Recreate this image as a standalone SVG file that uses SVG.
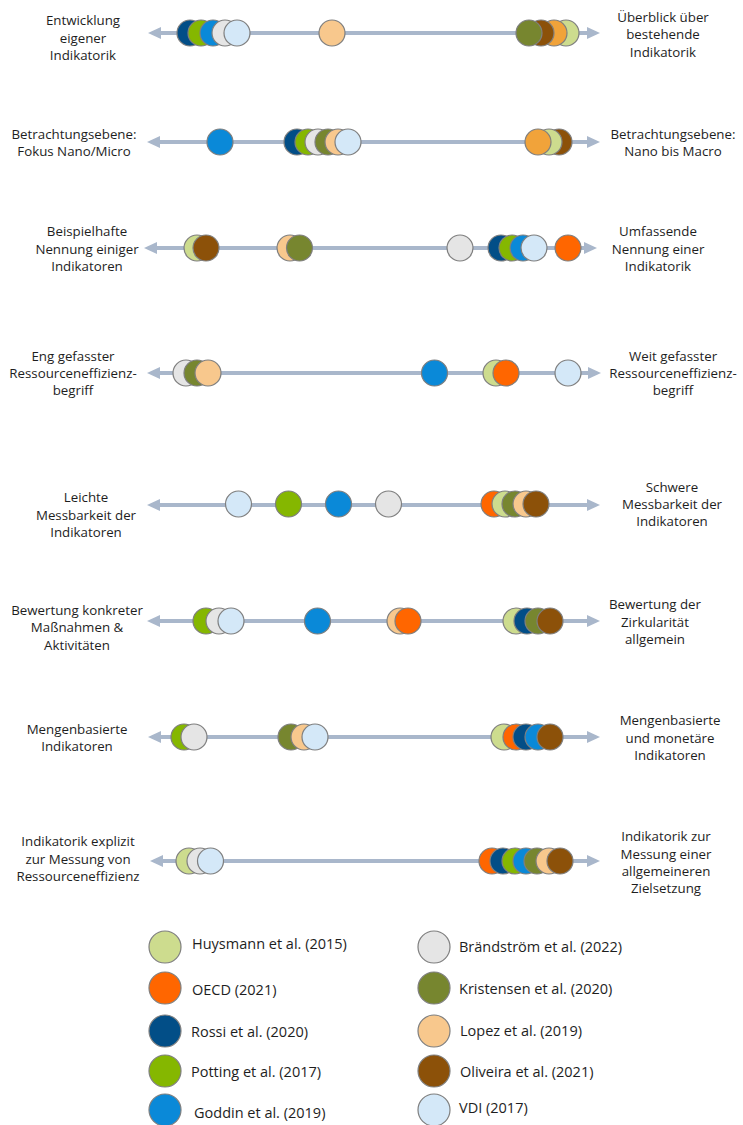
<svg xmlns="http://www.w3.org/2000/svg" width="743" height="1125" viewBox="0 0 743 1125">
<style>
text{font-family:"Open Sans","Liberation Sans",sans-serif;font-size:13.3px;fill:#1e1e1e}
.l{text-anchor:middle}
.lg{font-size:14.5px}
circle{stroke:#7f7f7f;stroke-width:1.2}
.ax{stroke:#a9b7cb;stroke-width:4;fill:none;marker-start:url(#ah);marker-end:url(#ah)}
.hu{fill:#cddc8e}.oe{fill:#ff6600}.ro{fill:#024e87}.po{fill:#85b700}.go{fill:#0a89d8}
.br{fill:#e5e5e5}.kr{fill:#77862f}.lo{fill:#f8c88d}.ol{fill:#8c5109}.vd{fill:#d4e8f8}.or{fill:#f1a33a}
</style>
<defs>
<marker id="ah" markerUnits="userSpaceOnUse" markerWidth="13" markerHeight="12" refX="0" refY="6" orient="auto-start-reverse" viewBox="0 0 13 12">
<path d="M0,0 L13,6 L0,12 z" fill="#a9b7cb"/>
</marker>
</defs>
<g id="connectors">
<line class="ax" x1="161" y1="33" x2="587" y2="33"/>
<line class="ax" x1="160" y1="142" x2="587" y2="142"/>
<line class="ax" x1="157" y1="248" x2="584" y2="248"/>
<line class="ax" x1="160" y1="373" x2="588" y2="373"/>
<line class="ax" x1="160" y1="505" x2="587" y2="505"/>
<line class="ax" x1="160" y1="621" x2="587" y2="621"/>
<line class="ax" x1="161" y1="737" x2="587" y2="737"/>
<line class="ax" x1="163" y1="861" x2="587" y2="861"/>
</g>
<g id="row1">
<text class="l" x="83" y="25">Entwicklung</text><text class="l" x="83" y="43">eigener</text><text class="l" x="83" y="60">Indikatorik</text>
<text class="l" x="663" y="22">Überblick über</text><text class="l" x="663" y="39">bestehende</text><text class="l" x="663" y="57">Indikatorik</text>
<circle class="ro" cx="190" cy="33" r="13"/><circle class="po" cx="201" cy="33" r="13"/><circle class="go" cx="213" cy="33" r="13"/><circle class="br" cx="225" cy="33" r="13"/><circle class="vd" cx="237" cy="33" r="13"/>
<circle class="lo" cx="332" cy="33" r="13"/>
<circle class="hu" cx="566" cy="33" r="13"/><circle class="or" cx="554" cy="33" r="13"/><circle class="ol" cx="541" cy="33" r="13"/><circle class="kr" cx="529" cy="33" r="13"/>
</g>
<g id="row2">
<text class="l" x="74" y="139">Betrachtungsebene:</text><text class="l" x="74" y="156">Fokus Nano/Micro</text>
<text class="l" x="673" y="139">Betrachtungsebene:</text><text class="l" x="673" y="156">Nano bis Macro</text>
<circle class="go" cx="220" cy="142" r="13"/>
<circle class="ro" cx="297" cy="142" r="13"/><circle class="po" cx="308" cy="142" r="13"/><circle class="br" cx="318" cy="142" r="13"/><circle class="kr" cx="328" cy="142" r="13"/><circle class="lo" cx="338" cy="142" r="13"/><circle class="vd" cx="348" cy="142" r="13"/>
<circle class="ol" cx="559" cy="142" r="13"/><circle class="hu" cx="549" cy="142" r="13"/><circle class="or" cx="538" cy="142" r="13"/>
</g>
<g id="row3">
<text class="l" x="87" y="236">Beispielhafte</text><text class="l" x="87" y="254">Nennung einiger</text><text class="l" x="87" y="271">Indikatoren</text>
<text class="l" x="658" y="236">Umfassende</text><text class="l" x="658" y="254">Nennung einer</text><text class="l" x="658" y="271">Indikatorik</text>
<circle class="hu" cx="197" cy="248" r="13"/><circle class="ol" cx="206" cy="248" r="13"/>
<circle class="lo" cx="290" cy="248" r="13"/><circle class="kr" cx="299.5" cy="248" r="13"/>
<circle class="br" cx="460" cy="248" r="13"/>
<circle class="ro" cx="501" cy="248" r="13"/><circle class="po" cx="512" cy="248" r="13"/><circle class="go" cx="523" cy="248" r="13"/><circle class="vd" cx="534" cy="248" r="13"/>
<circle class="oe" cx="568" cy="248" r="13"/>
</g>
<g id="row4">
<text class="l" x="73" y="361">Eng gefasster</text><text class="l" x="73" y="378">Ressourceneffizienz-</text><text class="l" x="73" y="395">begriff</text>
<text class="l" x="673" y="361">Weit gefasster</text><text class="l" x="673" y="378">Ressourceneffizienz-</text><text class="l" x="673" y="395">begriff</text>
<circle class="br" cx="186" cy="373" r="13"/><circle class="kr" cx="197" cy="373" r="13"/><circle class="lo" cx="208" cy="373" r="13"/>
<circle class="go" cx="434.5" cy="373" r="13"/>
<circle class="hu" cx="496" cy="373" r="13"/><circle class="oe" cx="506" cy="373" r="13"/>
<circle class="vd" cx="568" cy="373" r="13"/>
</g>
<g id="row5">
<text class="l" x="86" y="502">Leichte</text><text class="l" x="86" y="520">Messbarkeit der</text><text class="l" x="86" y="537">Indikatoren</text>
<text class="l" x="672" y="492">Schwere</text><text class="l" x="672" y="509">Messbarkeit der</text><text class="l" x="672" y="526">Indikatoren</text>
<circle class="vd" cx="238.5" cy="504" r="13"/><circle class="po" cx="288.5" cy="504" r="13"/><circle class="go" cx="338.5" cy="504" r="13"/><circle class="br" cx="388.5" cy="504" r="13"/>
<circle class="oe" cx="494" cy="504" r="13"/><circle class="hu" cx="505" cy="504" r="13"/><circle class="kr" cx="515" cy="504" r="13"/><circle class="lo" cx="526" cy="504" r="13"/><circle class="ol" cx="536" cy="504" r="13"/>
</g>
<g id="row6">
<text class="l" x="77" y="615">Bewertung konkreter</text><text class="l" x="77" y="632">Maßnahmen &amp;</text><text class="l" x="77" y="650">Aktivitäten</text>
<text class="l" x="655" y="609">Bewertung der</text><text class="l" x="655" y="627">Zirkularität</text><text class="l" x="655" y="644">allgemein</text>
<circle class="po" cx="206" cy="621" r="13"/><circle class="br" cx="219" cy="621" r="13"/><circle class="vd" cx="231" cy="621" r="13"/>
<circle class="go" cx="317.5" cy="621" r="13"/>
<circle class="lo" cx="400" cy="621" r="13"/><circle class="oe" cx="408" cy="621" r="13"/>
<circle class="hu" cx="516" cy="621" r="13"/><circle class="ro" cx="527" cy="621" r="13"/><circle class="kr" cx="538" cy="621" r="13"/><circle class="ol" cx="550" cy="621" r="13"/>
</g>
<g id="row7">
<text class="l" x="77" y="734">Mengenbasierte</text><text class="l" x="77" y="751">Indikatoren</text>
<text class="l" x="670" y="725">Mengenbasierte</text><text class="l" x="670" y="743">und monetäre</text><text class="l" x="670" y="760">Indikatoren</text>
<circle class="po" cx="184" cy="737" r="13"/><circle class="br" cx="194" cy="737" r="13"/>
<circle class="kr" cx="291" cy="737" r="13"/><circle class="lo" cx="304" cy="737" r="13"/><circle class="vd" cx="315" cy="737" r="13"/>
<circle class="hu" cx="504" cy="737" r="13"/><circle class="oe" cx="516" cy="737" r="13"/><circle class="ro" cx="526" cy="737" r="13"/><circle class="go" cx="538" cy="737" r="13"/><circle class="ol" cx="550" cy="737" r="13"/>
</g>
<g id="row8">
<text class="l" x="78" y="846">Indikatorik explizit</text><text class="l" x="78" y="864">zur Messung von</text><text class="l" x="78" y="881">Ressourceneffizienz</text>
<text class="l" x="666" y="841">Indikatorik zur</text><text class="l" x="666" y="859">Messung einer</text><text class="l" x="666" y="876">allgemeineren</text><text class="l" x="666" y="893">Zielsetzung</text>
<circle class="hu" cx="189" cy="861" r="13"/><circle class="br" cx="200" cy="861" r="13"/><circle class="vd" cx="210.5" cy="861" r="13"/>
<circle class="oe" cx="492" cy="861" r="13"/><circle class="ro" cx="503" cy="861" r="13"/><circle class="po" cx="515" cy="861" r="13"/><circle class="go" cx="526" cy="861" r="13"/><circle class="kr" cx="537" cy="861" r="13"/><circle class="lo" cx="549" cy="861" r="13"/><circle class="ol" cx="560" cy="861" r="13"/>
</g>
<g id="legend">
<circle class="hu" cx="165" cy="947" r="16"/><text class="lg" x="192" y="949">Huysmann et al. (2015)</text>
<circle class="oe" cx="165" cy="988" r="16"/><text class="lg" x="192" y="995">OECD (2021)</text>
<circle class="ro" cx="165" cy="1031" r="16"/><text class="lg" x="191" y="1037">Rossi et al. (2020)</text>
<circle class="po" cx="165" cy="1071" r="16"/><text class="lg" x="191" y="1077">Potting et al. (2017)</text>
<circle class="go" cx="165" cy="1110" r="16"/><text class="lg" x="194" y="1118">Goddin et al. (2019)</text>
<circle class="br" cx="434" cy="947" r="16"/><text class="lg" x="459" y="952">Brändström et al. (2022)</text>
<circle class="kr" cx="434" cy="988" r="16"/><text class="lg" x="459" y="994">Kristensen et al. (2020)</text>
<circle class="lo" cx="434" cy="1031" r="16"/><text class="lg" x="460" y="1036">Lopez et al. (2019)</text>
<circle class="ol" cx="434" cy="1071" r="16"/><text class="lg" x="460" y="1077">Oliveira et al. (2021)</text>
<circle class="vd" cx="434" cy="1110" r="16"/><text class="lg" x="459" y="1113">VDI (2017)</text>
</g>
</svg>
